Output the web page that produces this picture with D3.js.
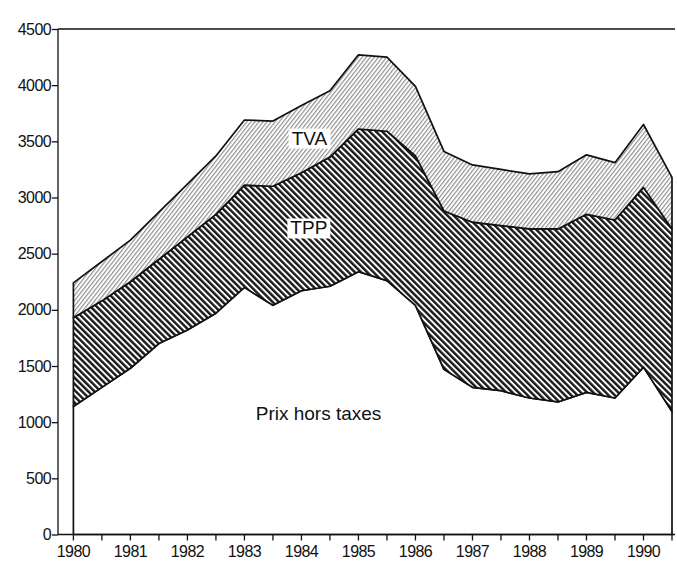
<!DOCTYPE html>
<html>
<head>
<meta charset="utf-8">
<script src="https://cdn.jsdelivr.net/npm/d3@7"></script>
<style>
  * {
    box-sizing: border-box;
  }

  body {
    margin: 0;
    background: #fff;
  }

  #chart {
    display: block;
    font-family: "Liberation Sans", Arial, sans-serif;
  }

  .axis path,
  .axis line {
    stroke: #111;
    stroke-width: 1.3px;
  }

  .axis text {
    font-size: 16px;
    fill: #111;
    letter-spacing: -0.6px;
  }

  .layer {
    stroke: #111;
    stroke-width: 1.7px;
    stroke-linejoin: round;
  }

  .label {
    font-size: 19px;
    fill: #111;
  }
</style>
</head>
<body>
<svg id="chart" width="677" height="566"></svg>
<script>
// half-year steps, 1980 .. 1990.5
const periods = [
  1980, 1980.5, 1981, 1981.5, 1982, 1982.5, 1983, 1983.5, 1984, 1984.5, 1985,
  1985.5, 1986, 1986.5, 1987, 1987.5, 1988, 1988.5, 1989, 1989.5, 1990, 1990.5,
];
const prixHorsTaxes = [
  1140, 1310, 1480, 1700, 1820, 1970, 2200, 2040, 2170, 2210, 2340,
  2260, 2040, 1470, 1310, 1280, 1215, 1180, 1265, 1215, 1490, 1095,
];
const tpp = [
  790, 770, 770, 750, 830, 880, 910, 1060, 1050, 1150, 1270,
  1330, 1330, 1410, 1470, 1470, 1505, 1540, 1585, 1585, 1600, 1625,
];
const tva = [
  310, 350, 370, 420, 470, 520, 580, 580, 600, 590, 660,
  660, 620, 530, 510, 500, 490, 510, 530, 510, 560, 460,
];
const yearTicks = [1980, 1981, 1982, 1983, 1984, 1985, 1986, 1987, 1988, 1989, 1990];
const valueTicks = [0, 500, 1000, 1500, 2000, 2500, 3000, 3500, 4000, 4500];
const layerNames = ["Prix hors taxes", "TPP", "TVA"];

const svg = d3.select("#chart");

const axisLeftX = 58;
const x = d3.scaleLinear().domain([1980, 1990.5]).range([73.4, 672]);
const y = d3.scaleLinear().domain([0, 4500]).range([534.5, 29]);

//=== hatch patterns ===
const defs = svg.append("defs");

const light = defs
  .append("pattern")
  .attr("id", "hatch-light")
  .attr("patternUnits", "userSpaceOnUse")
  .attr("width", 3.2)
  .attr("height", 10)
  .attr("patternTransform", "rotate(38)");
light.append("rect").attr("width", 3.2).attr("height", 10).attr("fill", "#fff");
light
  .append("line")
  .attr("x1", 0.6)
  .attr("x2", 0.6)
  .attr("y1", 0)
  .attr("y2", 10)
  .attr("stroke", "#8a8a8a")
  .attr("stroke-width", 1.1);

const dark = defs
  .append("pattern")
  .attr("id", "hatch-dark")
  .attr("patternUnits", "userSpaceOnUse")
  .attr("width", 4.4)
  .attr("height", 10)
  .attr("patternTransform", "rotate(-45)");
dark.append("rect").attr("width", 4.4).attr("height", 10).attr("fill", "#fff");
dark
  .append("line")
  .attr("x1", 1.2)
  .attr("x2", 1.2)
  .attr("y1", 0)
  .attr("y2", 10)
  .attr("stroke", "#1a1a1a")
  .attr("stroke-width", 2.5);

//=== stacked layers ===
const rows = periods.map((p, i) => ({
  period: p,
  [layerNames[0]]: prixHorsTaxes[i],
  [layerNames[1]]: tpp[i],
  [layerNames[2]]: tva[i],
}));

const stacked = d3.stack().keys(layerNames)(rows);
const fills = ["#fff", "url(#hatch-dark)", "url(#hatch-light)"];

const area = d3
  .area()
  .x((d) => x(d.data.period))
  .y0((d) => y(d[0]))
  .y1((d) => y(d[1]));

svg
  .append("g")
  .selectAll("path")
  .data(stacked)
  .join("path")
  .attr("class", "layer")
  .attr("fill", (d, i) => fills[i])
  .attr("d", area);

//=== frame: top line ===
svg
  .append("line")
  .attr("x1", axisLeftX)
  .attr("x2", 675)
  .attr("y1", y(4500))
  .attr("y2", y(4500))
  .attr("stroke", "#111")
  .attr("stroke-width", 1.3);

//=== x axis ===
const xAxis = svg
  .append("g")
  .attr("class", "axis")
  .attr("transform", `translate(0,${y(0)})`);

xAxis
  .append("line")
  .attr("x1", axisLeftX)
  .attr("x2", 675)
  .attr("y1", 0)
  .attr("y2", 0);

xAxis
  .selectAll(".tick-line")
  .data(periods)
  .join("line")
  .attr("class", "tick-line")
  .attr("x1", (d) => x(d))
  .attr("x2", (d) => x(d))
  .attr("y1", 0)
  .attr("y2", 6);

xAxis
  .selectAll("text")
  .data(yearTicks)
  .join("text")
  .attr("x", (d) => x(d))
  .attr("y", 22)
  .attr("text-anchor", "middle")
  .text((d) => d);

//=== y axis ===
svg
  .append("g")
  .attr("class", "axis")
  .attr("transform", `translate(${axisLeftX},0)`)
  .call(
    d3
      .axisLeft(y)
      .tickValues(valueTicks)
      .tickSize(6)
      .tickPadding(1)
      .tickFormat(d3.format("d"))
  )
  .call((g) => g.select(".domain").attr("d", `M0,${y(0)}V${y(4500)}`))
  .call((g) => g.selectAll("text").attr("font-family", null));

//=== labels ===
const labels = [
  { text: "TVA", period: 1984.14, value: 3530, box: true },
  { text: "TPP", period: 1984.13, value: 2730, box: true },
  { text: "Prix hors taxes", period: 1984.3, value: 1080, box: false },
];

labels.forEach((l) => {
  const g = svg.append("g");
  const t = g
    .append("text")
    .attr("class", "label")
    .attr("x", x(l.period))
    .attr("y", y(l.value))
    .attr("dy", "0.35em")
    .attr("text-anchor", "middle")
    .text(l.text);
  if (l.box) {
    const b = t.node().getBBox();
    g.insert("rect", "text")
      .attr("x", b.x - 3)
      .attr("y", b.y + 1)
      .attr("width", b.width + 6)
      .attr("height", b.height - 1)
      .attr("fill", "#fff");
  }
});
</script>
</body>
</html>
